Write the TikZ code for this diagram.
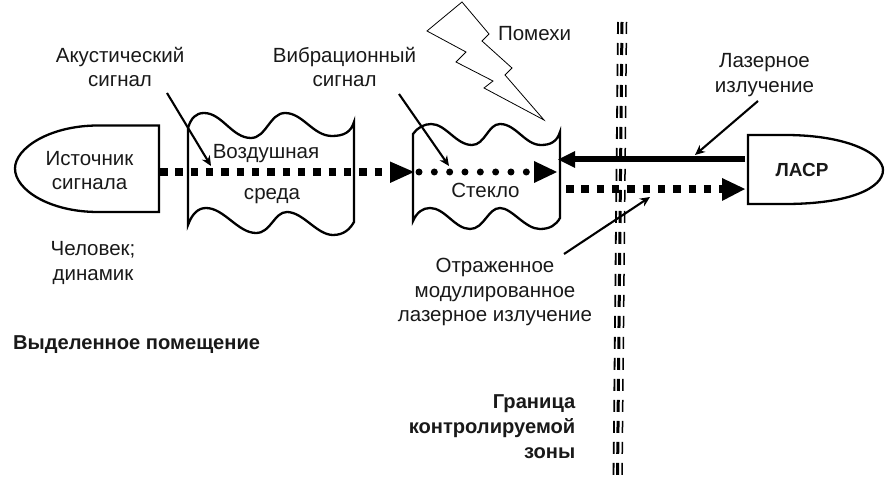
\documentclass[tikz,border=0pt]{standalone}
\usepackage{fontspec}
\setmainfont{Liberation Sans}
\usetikzlibrary{arrows.meta}
\tikzset{
  x=1bp,y=-1bp,
  lbl/.style={font=\fontsize{20.6}{25}\selectfont,align=center,inner sep=0pt,text=black!90},
  blbl/.style={lbl,font=\fontsize{20.2}{25}\selectfont\bfseries},
  shapeline/.style={draw=black,line width=2.3bp},
  pointer/.style={draw=black,line width=2.1bp,-{Stealth[length=10bp,width=9bp]}},
  squaredash/.style={draw=black,line width=7.5bp,dash pattern=on 7.5bp off 7.83bp},
  rounddot/.style={draw=black,line width=7bp,line cap=round,dash pattern=on 0pt off 15.33bp},
  headtip/.style={fill=black,draw=none},
  boundary/.style={draw=black,dash pattern=on 12bp off 9bp},
}
\begin{document}
\begin{tikzpicture}
\useasboundingbox (0,0) rectangle (886,477);
% source
\draw[shapeline] (159,125.5) -- (98,125.5) .. controls (50,125.5) and (15,148) .. (15,168.5) .. controls (15,190) and (50,212) .. (98,212) -- (159,212) -- cycle;
\node[lbl] (src) at (89.5,170.5) {Источник\\сигнала};
% air
\draw[shapeline] (188,128) .. controls (191,118) and (196,113) .. (204,113) .. controls (222,113) and (232,138) .. (251,138) .. controls (266,138) and (270,113) .. (285,113) .. controls (303,113) and (313,136) .. (332,136) .. controls (344,136) and (351,132) .. (354,122) -- (354,222) .. controls (350,229) and (344,235) .. (333,235) .. controls (317,235) and (303,212) .. (287,212) .. controls (274,212) and (271,233) .. (256,233) .. controls (238,233) and (224,208) .. (206,208) .. controls (198,208) and (192,214) .. (188,225) -- cycle;
\node[lbl] (air1) at (266,153.5) {Воздушная};
\node[lbl] (air2) at (272,196) {среда};
% glass
\draw[shapeline] (413,134) .. controls (417,128) and (424,124) .. (431,124) .. controls (446,124) and (456,145) .. (472,145) .. controls (485,145) and (488,124) .. (500,124) .. controls (516,124) and (525,145) .. (541,145) .. controls (550,145) and (557,142) .. (560,132) -- (560,218) .. controls (556,225) and (550,229) .. (540,229) .. controls (525,229) and (512,208) .. (500,208) .. controls (488,208) and (484,229) .. (470,229) .. controls (455,229) and (445,208) .. (430,208) .. controls (423,208) and (417,212) .. (413,221) -- cycle;
\node[lbl] (glass) at (485.5,190) {Стекло};
% lightning
\draw[black,line width=0.8bp] (462,2) -- (489,34) -- (482,41) -- (512,68) -- (505,75) -- (544,120) -- (484,88) -- (493,81) -- (456,62) -- (466,52) -- (427,31) -- cycle;
\node[lbl] (noise) at (534.5,34) {Помехи};
% laser device
\draw[shapeline] (748,135) -- (785,135) .. controls (850,135) and (883,155) .. (883,170) .. controls (883,188) and (850,204) .. (785,204) -- (748,204) -- cycle;
\node[blbl,font=\fontsize{19}{20}\selectfont\bfseries] (lasr) at (802,170) {ЛАСР};
% boundary
\draw[boundary,line width=1.8bp] (618,22) -- (613.5,477);
\draw[boundary,line width=3bp] (622,22) -- (617.5,477);
\draw[boundary,line width=1.5bp] (626.5,22) -- (622,477);
% flows
\coordinate (a0) at (160,172);
\coordinate (a1) at (390,172);
\draw[squaredash] (a0) -- (a1);
\fill[headtip] (390,161.5) -- (414,172) -- (390,183) -- cycle;
\coordinate (b0) at (419,172);
\coordinate (b1) at (528,172);
\draw[rounddot] (b0) -- (b1);
\fill[headtip] (534,161) -- (557,172) -- (534,183) -- cycle;
\coordinate (c0) at (745,159.5);
\coordinate (c1) at (575,159.5);
\draw[black,line width=6bp] (c0) -- (c1);
\fill[headtip] (575,151) -- (558,159.5) -- (575,168) -- cycle;
\coordinate (d0) at (566,189);
\coordinate (d1) at (722,189);
\draw[squaredash] (d0) -- (d1);
\fill[headtip] (722,178) -- (745,189) -- (722,201) -- cycle;
% labels
\node[lbl] (ac) at (120,67) {Акустический\\сигнал};
\node[lbl] (vib) at (344.5,67) {Вибрационный\\сигнал};
\node[lbl] (las) at (764.5,75) {Лазерное\\излучение};
\node[lbl] (hum) at (93,263) {Человек;\\динамик};
\node[lbl] (refl) at (495,292) {Отраженное\\модулированное\\лазерное излучение};
\node[blbl,anchor=west] (room) at (13,345) {Выделенное помещение};
\node[blbl,align=right,anchor=east] (zone) at (575.5,427) {Граница\\контролируемой\\зоны};
% pointers
\coordinate (p1) at (167,93);
\coordinate (p1e) at (211,166);
\draw[pointer] (p1) -- (p1e);
\coordinate (p2) at (399,94);
\coordinate (p2e) at (449,166);
\draw[pointer] (p2) -- (p2e);
\coordinate (p3) at (758,101);
\coordinate (p3e) at (695,155);
\draw[pointer] (p3) -- (p3e);
\coordinate (p4) at (564,254);
\coordinate (p4e) at (650,197);
\draw[pointer] (p4) -- (p4e);
\end{tikzpicture}
\end{document}
